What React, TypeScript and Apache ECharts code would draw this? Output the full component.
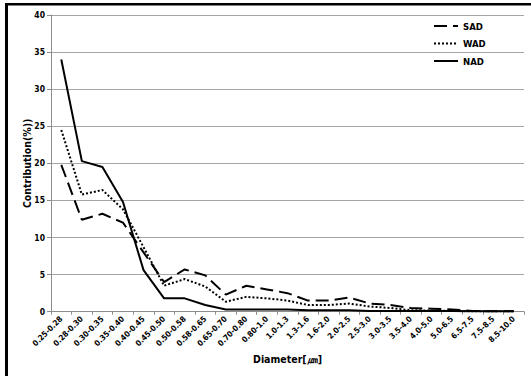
import React, { useEffect, useRef } from "react";
import * as echarts from "echarts";

const categories = [
  "0.25-0.28", "0.28-0.30", "0.30-0.35", "0.35-0.40", "0.40-0.45", "0.45-0.50",
  "0.50-0.58", "0.58-0.65", "0.65-0.70", "0.70-0.80", "0.80-1.0", "1.0-1.3",
  "1.3-1.6", "1.6-2.0", "2.0-2.5", "2.5-3.0", "3.0-3.5", "3.5-4.0", "4.0-5.0",
  "5.0-6.5", "6.5-7.5", "7.5-8.5", "8.5-10.0",
];

const sadValues = [19.8, 12.4, 13.2, 12.0, 8.0, 4.0, 5.7, 4.9, 2.3, 3.5, 3.0, 2.5, 1.5, 1.5, 1.9, 1.1, 0.9, 0.5, 0.4, 0.3, 0.1, 0.05, 0.05];
const wadValues = [24.5, 15.8, 16.4, 13.8, 8.7, 3.5, 4.4, 3.4, 1.35, 2.0, 1.8, 1.5, 0.9, 0.9, 1.1, 0.7, 0.5, 0.2, 0.15, 0.1, 0.05, 0.05, 0.05];
const nadValues = [34.0, 20.3, 19.5, 14.8, 5.6, 1.8, 1.8, 0.9, 0.3, 0.3, 0.3, 0.3, 0.2, 0.2, 0.2, 0.1, 0.1, 0.1, 0.1, 0.1, 0.05, 0.05, 0.05];

const yTicks = { min: 0, max: 40, interval: 5 };

const FONT = "'Liberation Sans Narrow', 'DejaVu Sans Condensed', 'Arial Narrow', sans-serif";

export default function App() {
  const ref = useRef<HTMLDivElement>(null);
  useEffect(() => {
    if (!ref.current) return;
    const chart = echarts.init(ref.current, undefined, { renderer: "svg" });
    chart.setOption({
      animation: false,
      backgroundColor: "#ffffff",
      textStyle: { fontFamily: FONT, fontWeight: "bold", color: "#000" },
      grid: { left: 51, right: 7, top: 15, bottom: 64.3, containLabel: false },
      legend: {
        orient: "vertical",
        left: 433,
        top: 21,
        padding: 0,
        itemWidth: 24,
        itemHeight: 10,
        itemGap: 7.5,
        data: ["SAD", "WAD", "NAD"],
        itemStyle: { color: "transparent", borderWidth: 0, opacity: 0 },
        textStyle: { fontFamily: FONT, fontWeight: "bold", fontSize: 9.5, color: "#000" },
      },
      xAxis: {
        type: "category",
        data: categories,
        boundaryGap: true,
        name: "Diameter[㎛]",
        nameLocation: "middle",
        nameGap: 42,
        nameMoveOverlap: false,
        nameTextStyle: { fontFamily: FONT, fontWeight: "bold", fontSize: 10.5, color: "#000" },
        axisLine: { lineStyle: { color: "#8c8c8c", width: 1 } },
        axisTick: { show: true, length: 3, lineStyle: { color: "#8c8c8c" } },
        axisLabel: {
          interval: 0,
          rotate: 45,
          margin: 6,
          fontFamily: FONT,
          fontWeight: "bold",
          fontSize: 8,
          color: "#000",
        },
        splitLine: { show: false },
      },
      yAxis: {
        type: "value",
        min: yTicks.min,
        max: yTicks.max,
        interval: yTicks.interval,
        name: "Contribution(%))",
        nameLocation: "middle",
        nameGap: 19,
        nameMoveOverlap: false,
        nameRotate: 90,
        nameTextStyle: { fontFamily: FONT, fontWeight: "bold", fontSize: 10.5, color: "#000" },
        axisLine: { show: true, lineStyle: { color: "#8c8c8c", width: 1 } },
        axisTick: { show: true, length: 4, lineStyle: { color: "#8c8c8c" } },
        axisLabel: { margin: 6, fontFamily: FONT, fontWeight: "bold", fontSize: 8.5, color: "#000" },
        splitLine: { show: true, lineStyle: { color: "#a6a6a6", width: 1 } },
      },
      series: [
        {
          name: "SAD",
          type: "line",
          data: sadValues,
          symbol: "none",
          lineStyle: { color: "#000", width: 2, type: [13, 6] },
          itemStyle: { color: "#000" },
        },
        {
          name: "WAD",
          type: "line",
          data: wadValues,
          symbol: "none",
          lineStyle: { color: "#000", width: 2, type: [2, 2] },
          itemStyle: { color: "#000" },
        },
        {
          name: "NAD",
          type: "line",
          data: nadValues,
          symbol: "none",
          lineStyle: { color: "#000", width: 2, type: "solid" },
          itemStyle: { color: "#000" },
        },
      ],
      graphic: [
        { type: "rect", shape: { x: 5, y: 3, width: 526, height: 2.5 }, style: { fill: "#000" }, silent: true },
        { type: "rect", shape: { x: 5, y: 3, width: 3, height: 373 }, style: { fill: "#000" }, silent: true },
      ],
    });
    return () => chart.dispose();
  }, []);
  return (
    <div
      ref={ref}
      style={{ position: "absolute", left: 0, top: 0, width: 531, height: 376, background: "#fff" }}
    />
  );
}
